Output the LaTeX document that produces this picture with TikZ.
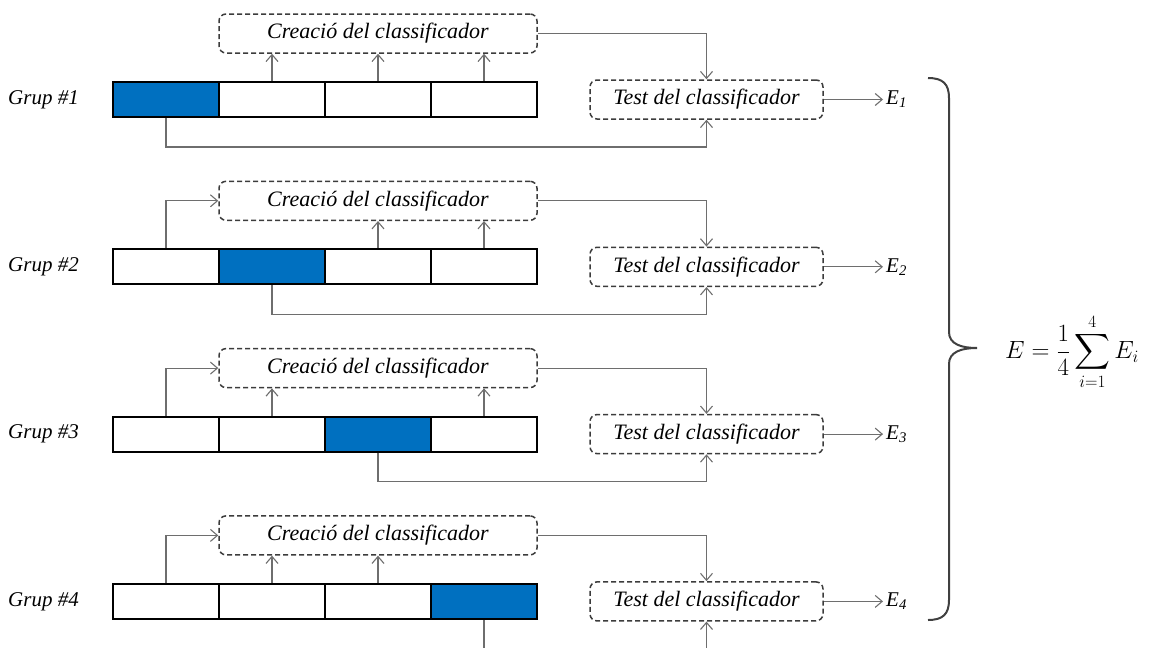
\documentclass[tikz,border=0pt]{standalone}
\usepackage{exscale}
\usepackage{fontspec}
\setmainfont{Liberation Serif}
\usetikzlibrary{arrows.meta}
\DeclareMathSizes{27}{27}{19}{14}
\definecolor{cellblue}{HTML}{0070C0}
\definecolor{wire}{HTML}{6E6E6E}
\definecolor{dashgray}{HTML}{3C3C3C}
\definecolor{bracegray}{HTML}{404040}

\begin{document}
\begin{tikzpicture}[x=1pt,y=-1pt,
  cell/.style={draw=black,line width=2.2pt,minimum width=106pt,minimum height=35pt,inner sep=0pt,fill=white},
  heldout/.style={cell,fill=cellblue},
  stagebox/.style={draw=dashgray,line width=1.5pt,dash pattern=on 5pt off 3pt,rounded corners=7pt,
    minimum height=39pt,inner sep=0pt,font=\fontsize{22}{26}\selectfont\itshape},
  conn/.style={draw=wire,line width=1.1pt},
  arr/.style={conn,-{Straight Barb[length=7pt,width=12pt]}},
  grouplabel/.style={anchor=west,inner sep=0pt,font=\fontsize{21}{25}\selectfont\itshape},
  errlabel/.style={anchor=west,inner xsep=3pt,inner ysep=0pt,font=\fontsize{21}{25}\selectfont\itshape}
]
\clip (0,0) rectangle (1152,648);

\foreach \k in {1,...,4} {
  \pgfmathsetmacro\ty{82+167.3*(\k-1)}
  \pgfmathsetmacro\cy{\ty+17.5}

  % the four folds of the group, the held-out one in blue
  \foreach \j in {1,...,4} {
    \pgfmathsetmacro\cx{166+106*(\j-1)}
    \ifnum\j=\k
      \node[heldout] (c\k\j) at (\cx,\cy) {};
    \else
      \node[cell] (c\k\j) at (\cx,\cy) {};
    \fi
  }

  \node[grouplabel] (g\k) at (8,\cy) {Grup \#\k};
  \node[stagebox,minimum width=318pt] (cr\k) at (378,\ty-48.5) {Creació del classificador};
  \node[stagebox,minimum width=233pt] (t\k) at (706.5,\cy) {Test del classificador};
  \node[errlabel] (e\k) at (883,\cy) {E\textsubscript{\k}};

  % training folds feed the classifier
  \foreach \j in {2,3,4} {
    \ifnum\j=\k\else
      \draw[arr] (c\k\j.north) -- (c\k\j.north |- cr\k.south);
    \fi
  }
  \ifnum\k>1
    \draw[arr] (c\k1.north) |- (cr\k.west);
  \fi

  % classifier and held-out fold go to the test
  \draw[arr] (cr\k.east) -| (t\k.north);
  \coordinate (low\k) at (0,\ty+65);
  \draw[arr] (c\k\k.south) -- (c\k\k.south |- low\k) -| (t\k.south);

  \draw[arr] (t\k.east) -- (e\k.west);
}

% brace collecting the four errors
\draw[draw=bracegray,line width=2pt]
  (928,78) .. controls (943,78) and (949,84) .. (949,98)
  -- (949,332) .. controls (949,344) and (961,348) .. (977,348)
  .. controls (961,348) and (949,352) .. (949,364)
  -- (949,600) .. controls (949,614) and (943,620) .. (928,620);

\node (avg) at (1072,352) {\fontsize{27}{32}\selectfont$\displaystyle E=\frac{1}{4}\sum_{i=1}^{4}E_i$};
\end{tikzpicture}
\end{document}
